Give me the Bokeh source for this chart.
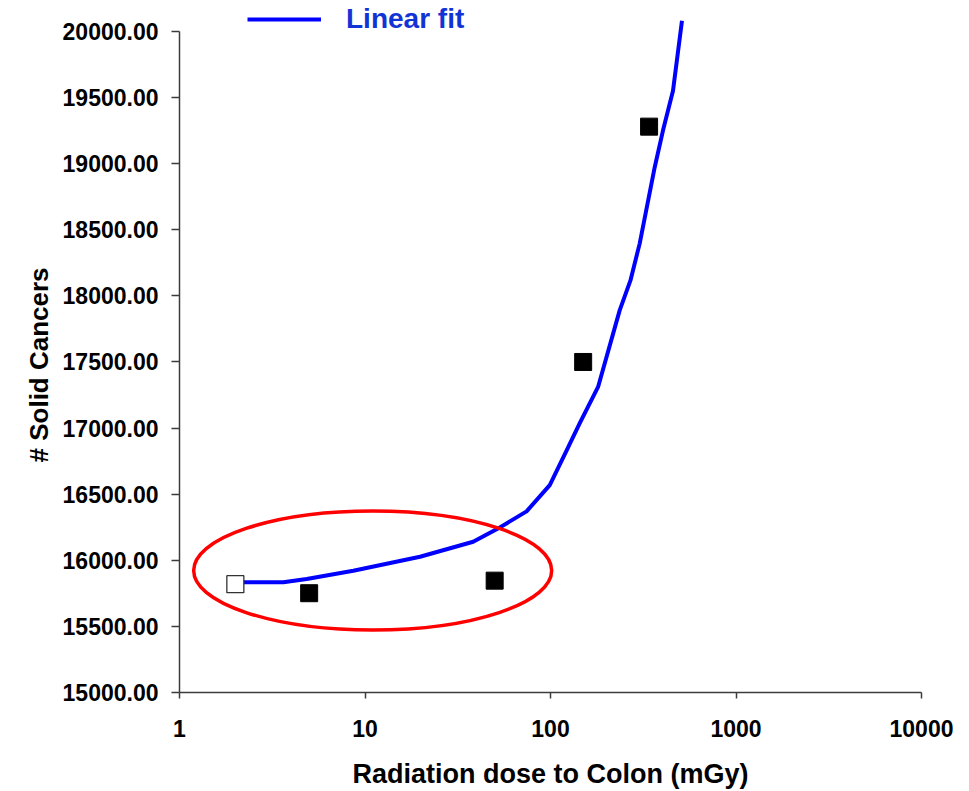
from bokeh.plotting import figure
from bokeh.models import (Range1d, FixedTicker, NumeralTickFormatter, Legend,
                          LegendItem, ColumnDataSource, Title)
from bokeh.embed import file_html
from bokeh.resources import INLINE

# ---- data ----
baseline_dose = [2]
baseline_cases = [15819]
observed_dose = [5, 50, 150, 340]
observed_cases = [15751, 15846, 17500, 19280]
fit_dose = [2, 3.63, 4.85, 8.65, 19.8, 38.3, 51.2, 74.3, 99.1, 122.4, 143.8,
            180.5, 236, 269.8, 302.7, 364.6, 403.9, 457.5, 511.4]
fit_cases = [15834, 15834, 15859, 15921, 16027, 16140, 16234, 16370, 16568,
             16833, 17037, 17311, 17890, 18117, 18397, 18973, 19250, 19552,
             20081]
y_ticks = [15000, 15500, 16000, 16500, 17000, 17500, 18000, 18500, 19000,
           19500, 20000]
x_ticks = [1, 10, 100, 1000, 10000]
highlight_dose = [11]
highlight_cases = [15923]

FONT = "Liberation Sans"
AXIS_COL = "#3c3c3c"

p = figure(width=969, height=791, x_axis_type="log",
           x_range=Range1d(1, 10000), y_range=Range1d(15000, 20234),
           output_backend="svg", toolbar_location=None,
           min_border_left=179, min_border_right=48, min_border_top=0,
           min_border_bottom=98)
p.outline_line_color = None
p.grid.visible = False
p.background_fill_color = "white"

# axes
for ax in (p.xaxis[0], p.yaxis[0]):
    ax.axis_line_color = AXIS_COL
    ax.axis_line_width = 1.5
    ax.major_tick_line_color = AXIS_COL
    ax.major_tick_line_width = 1.5
    ax.major_tick_in = 0
    ax.minor_tick_line_color = None
    ax.major_label_text_font = FONT
    ax.major_label_text_font_style = "bold"
    ax.major_label_text_font_size = "23px"
    ax.major_label_text_color = "black"
    ax.axis_label_text_font = FONT
    ax.axis_label_text_font_style = "bold"
    ax.axis_label_text_font_size = "27px"
    ax.axis_label_text_color = "black"

p.yaxis.ticker = FixedTicker(ticks=y_ticks, minor_ticks=[])
p.yaxis.formatter = NumeralTickFormatter(format="0.00")
p.yaxis.bounds = (15000, 20000)
p.yaxis.major_tick_out = 8
p.yaxis.major_label_standoff = 13

p.xaxis.ticker = FixedTicker(ticks=x_ticks, minor_ticks=[])
p.xaxis.formatter = NumeralTickFormatter(format="0")
p.xaxis.major_tick_out = 6
p.xaxis.major_label_standoff = 21
p.xaxis.axis_label = "Radiation dose to Colon (mGy)"
p.xaxis.axis_label_standoff = 19

# y-axis title, placed along the bounded axis (15000..20000)
p.add_layout(Title(text="# Solid Cancers", align="left", offset=230,
                   standoff=12, text_font=FONT, text_font_style="bold",
                   text_font_size="26px", text_color="black"), "left")

# fit line
fit_src = ColumnDataSource(dict(x=fit_dose, y=fit_cases))
r_fit = p.line("x", "y", source=fit_src, line_color="#0000FF", line_width=4,
               line_join="round")

# highlight ellipse
p.ellipse(x=highlight_dose, y=highlight_cases, width=358, height=119,
          width_units="screen", height_units="screen",
          fill_color=None, line_color="#FF0000", line_width=3.5)

# points
p.scatter(observed_dose, observed_cases, marker="square", size=17,
          fill_color="black", line_color="black")
p.scatter(baseline_dose, baseline_cases, marker="square", size=17,
          fill_color="white", line_color="#333333", line_width=1.3)

legend = Legend(items=[LegendItem(label="Linear fit", renderers=[r_fit])],
                location=(68, 655), glyph_width=74, glyph_height=36,
                label_height=36, label_standoff=25, padding=0, margin=0,
                border_line_color=None, background_fill_alpha=0,
                label_text_font=FONT, label_text_font_style="bold",
                label_text_font_size="28px", label_text_color="#1234D4")
p.add_layout(legend)

open("out.html", "w").write(file_html(p, INLINE))
